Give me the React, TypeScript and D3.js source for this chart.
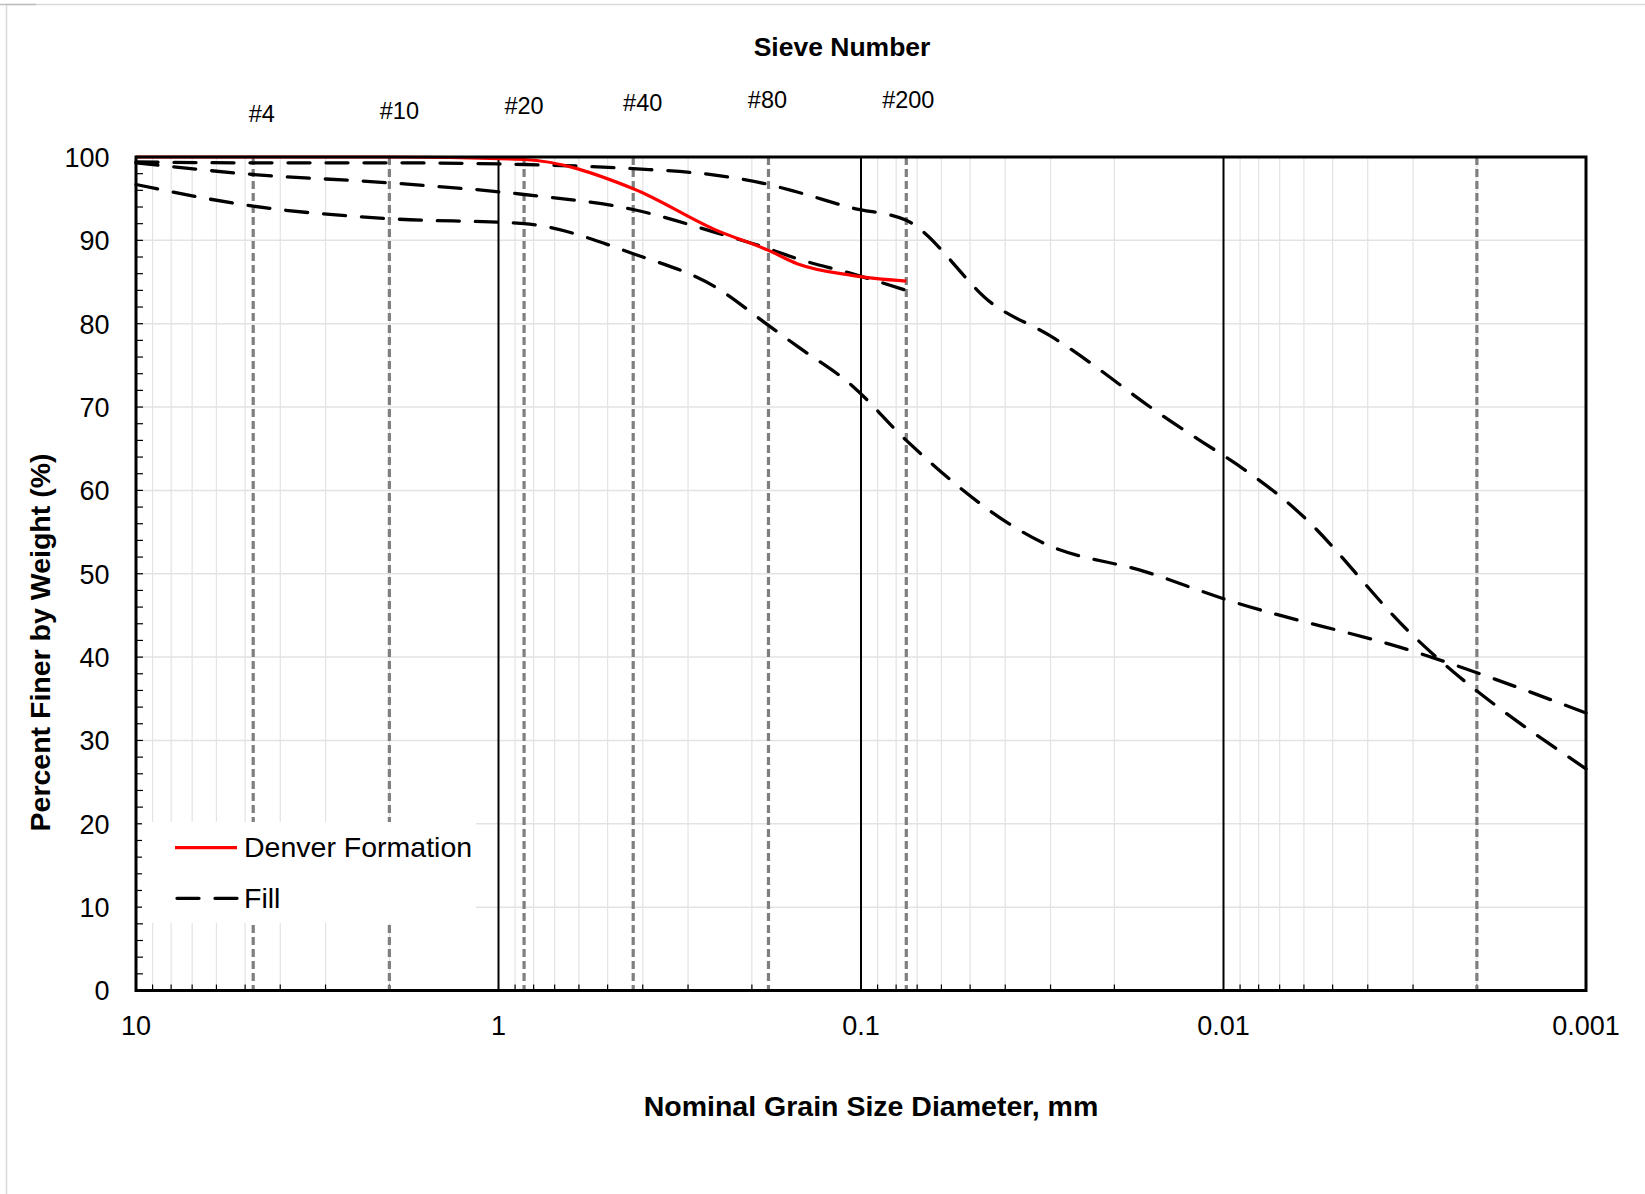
import React from "react";
import * as d3 from "d3";

// sieve openings (mm) and their labels
const sieveLabels = ["#4", "#10", "#20", "#40", "#80", "#200"];
const sieveSizes = [4.75, 2.0, 0.85, 0.425, 0.18, 0.075];
// unlabelled silt / clay boundary line
const clayLimit = [0.002];

const xTickValues = [10, 1, 0.1, 0.01, 0.001];
const xTickLabels = ["10", "1", "0.1", "0.01", "0.001"];
const yTickValues = [0, 10, 20, 30, 40, 50, 60, 70, 80, 90, 100];

// Denver Formation
const denverSize = [10, 4.75, 2.0, 0.85, 0.425, 0.25, 0.18, 0.15, 0.106, 0.075];
const denverPct = [100, 100, 100, 99.7, 96.2, 91.2, 88.8, 87.2, 85.8, 85.1];

// Fill samples
const fillASize = [10, 4.75, 2.0, 0.85, 0.425, 0.25, 0.18, 0.15, 0.106, 0.075, 0.0428, 0.0302, 0.0157, 0.006, 0.00307, 0.001];
const fillAPct = [99.4, 99.3, 99.3, 99.1, 98.6, 97.8, 96.7, 95.8, 93.9, 92.4, 82.2, 78.6, 69.8, 56.8, 43.0, 26.6];

const fillBSize = [10, 4.75, 2.0, 0.85, 0.425, 0.25, 0.18, 0.15, 0.106, 0.075];
const fillBPct = [99.3, 97.9, 96.9, 95.5, 93.7, 90.9, 89.0, 87.8, 86.0, 84.0];

const fillCSize = [10, 4.75, 2.0, 0.85, 0.425, 0.25, 0.18, 0.15, 0.106, 0.075, 0.0318, 0.0163, 0.01, 0.0029, 0.001];
const fillCPct = [96.7, 94.1, 92.6, 92.0, 88.4, 84.3, 79.8, 77.3, 72.6, 66.0, 53.8, 50.2, 47.0, 40.5, 33.3];

const FONT = "'Liberation Sans', Arial, Helvetica, sans-serif";
const W = 1645;
const H = 1194;
const plot = { left: 136, right: 1586, top: 157, bottom: 990.5 };

// hand placed sieve labels (dx from line, baseline)
const sieveLabelPos = [
  { dx: 8.5, y: 121.5 },
  { dx: 10, y: 119 },
  { dx: 0, y: 114 },
  { dx: 9.5, y: 110.7 },
  { dx: -1, y: 108.3 },
  { dx: 2, y: 108.3 },
];

const toPoints = (sizes: number[], pcts: number[]) => sizes.map((s, i) => [s, pcts[i]] as [number, number]);

export default function App() {
  const x = d3.scaleLog().domain([10, 0.001]).range([plot.left, plot.right]);
  const y = d3.scaleLinear().domain([0, 100]).range([plot.bottom, plot.top]);

  const line = d3
    .line<[number, number]>()
    .x((d) => x(d[0]))
    .y((d) => y(d[1]))
    .curve(d3.curveMonotoneX);

  const minorX = x.ticks().filter((t) => !xTickValues.some((v) => Math.abs(v - t) / v < 1e-6));
  const minorY = d3.range(0, 101, 2);

  const fills = [toPoints(fillASize, fillAPct), toPoints(fillBSize, fillBPct), toPoints(fillCSize, fillCPct)];
  const denver = toPoints(denverSize, denverPct);

  const dash = "22 16";

  return (
    <div style={{ position: "absolute", left: 0, top: 0, background: "#fff" }}>
      <svg width={W} height={H} style={{ display: "block", fontFamily: FONT }}>
        <rect x={0} y={0} width={W} height={H} fill="#fff" />
        {/* faint chart-area border */}
        <line x1={6.5} x2={W} y1={4.5} y2={4.5} stroke="#d9d9d9" strokeWidth={1.5} />
        <line x1={6.5} x2={6.5} y1={4.5} y2={H} stroke="#d9d9d9" strokeWidth={1.5} />
        <line x1={0} x2={36} y1={4.5} y2={4.5} stroke="#bfbfbf" strokeWidth={1.5} />

        {/* gridlines */}
        {yTickValues.map((v) => (
          <line key={"gy" + v} x1={plot.left} x2={plot.right} y1={y(v)} y2={y(v)} stroke="#e3e3e3" strokeWidth={1.5} />
        ))}
        {minorX.map((v, i) => (
          <line key={"gx" + i} x1={x(v)} x2={x(v)} y1={plot.top} y2={plot.bottom} stroke="#e3e3e3" strokeWidth={1.2} />
        ))}
        {minorX.map((v, i) => (
          <line key={"tx" + i} x1={x(v)} x2={x(v)} y1={plot.bottom} y2={plot.bottom - 6} stroke="#000" strokeWidth={1.2} />
        ))}
        {minorY.map((v) => (
          <line key={"ty" + v} x1={plot.left} x2={plot.left + 7} y1={y(v)} y2={y(v)} stroke="#000" strokeWidth={1.2} />
        ))}
        {xTickValues.slice(1, -1).map((v) => (
          <line key={"mx" + v} x1={x(v)} x2={x(v)} y1={plot.top} y2={plot.bottom} stroke="#000" strokeWidth={2} />
        ))}

        {/* sieve lines */}
        {sieveSizes.concat(clayLimit).map((s, i) => (
          <line
            key={"sv" + i}
            x1={x(s)}
            x2={x(s)}
            y1={plot.top}
            y2={plot.bottom}
            stroke="#7f7f7f"
            strokeWidth={3.2}
            strokeDasharray="8 4"
          />
        ))}

        {/* data */}
        {fills.map((pts, i) => (
          <path
            key={"fill" + i}
            d={line(pts) || ""}
            fill="none"
            stroke="#000"
            strokeWidth={3.3}
            strokeDasharray={dash}
            strokeLinecap="round"
          />
        ))}
        <path d={line(denver) || ""} fill="none" stroke="#ff0000" strokeWidth={3.2} />

        {/* legend */}
        <rect x={142} y={822} width={334} height={101} fill="#fff" />
        <line x1={175} x2={237} y1={847.7} y2={847.7} stroke="#ff0000" strokeWidth={3.2} />
        <text x={244} y={857} fontSize={28.5} fill="#000">Denver Formation</text>
        <line x1={177} x2={237} y1={898.3} y2={898.3} stroke="#000" strokeWidth={3.3} strokeDasharray={dash} strokeLinecap="round" />
        <text x={244} y={908} fontSize={28.5} fill="#000">Fill</text>

        {/* frame */}
        <rect
          x={plot.left}
          y={plot.top}
          width={plot.right - plot.left}
          height={plot.bottom - plot.top}
          fill="none"
          stroke="#000"
          strokeWidth={3}
        />

        {/* tick labels */}
        {yTickValues.map((v) => (
          <text key={"yl" + v} x={109.5} y={y(v) + 9.8} textAnchor="end" fontSize={27} fill="#000">
            {v}
          </text>
        ))}
        {xTickValues.map((v, i) => (
          <text key={"xl" + v} x={x(v)} y={1035} textAnchor="middle" fontSize={27} fill="#000">
            {xTickLabels[i]}
          </text>
        ))}

        {/* sieve labels */}
        {sieveLabels.map((lab, i) => (
          <text
            key={"sl" + lab}
            x={x(sieveSizes[i]) + sieveLabelPos[i].dx}
            y={sieveLabelPos[i].y}
            textAnchor="middle"
            fontSize={23.5}
            fill="#000"
          >
            {lab}
          </text>
        ))}

        {/* titles */}
        <text x={842} y={56} textAnchor="middle" fontSize={26.5} fontWeight="bold" fill="#000">
          Sieve Number
        </text>
        <text x={871} y={1116} textAnchor="middle" fontSize={28.5} fontWeight="bold" fill="#000">
          Nominal Grain Size Diameter, mm
        </text>
        <text
          transform="translate(50,642.5) rotate(-90)"
          textAnchor="middle"
          fontSize={28.5}
          fontWeight="bold"
          fill="#000"
        >
          Percent Finer by Weight (%)
        </text>
      </svg>
    </div>
  );
}
